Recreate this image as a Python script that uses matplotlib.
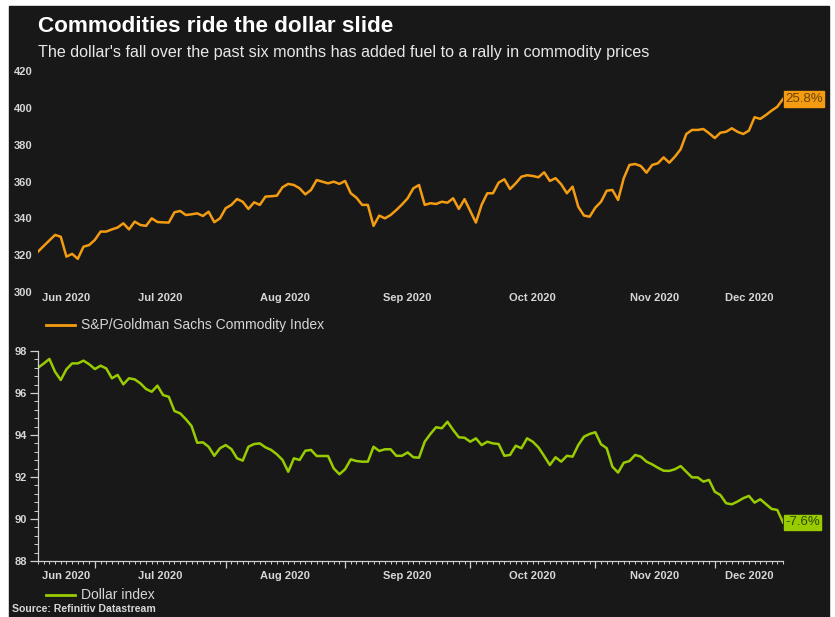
import matplotlib
matplotlib.use("Agg")
import matplotlib.pyplot as plt
from matplotlib import transforms
from matplotlib.lines import Line2D
from matplotlib.patches import Rectangle
from matplotlib.ticker import MultipleLocator
import numpy as np
import pandas as pd

# trading days shown on the x axis
dates = pd.bdate_range("2020-06-17", "2020-12-17")

# S&P/Goldman Sachs Commodity Index, one value per trading day
gsci = [321.9, 325.0, 328.0, 331.0, 330.0, 319.2, 320.7, 318.0, 324.6, 325.5,
        328.3, 332.8, 332.8, 334.0, 335.0, 337.3, 334.0, 338.2, 336.4, 335.9,
        340.0, 338.0, 337.8, 337.7, 343.3, 344.0, 341.8, 342.2, 342.7, 341.3,
        343.6, 337.9, 340.0, 345.5, 347.3, 350.5, 349.0, 345.1, 348.7, 347.3,
        351.8, 352.0, 352.3, 356.9, 358.7, 358.1, 356.3, 353.0, 355.4, 360.8,
        359.9, 359.0, 359.9, 358.7, 360.3, 353.6, 351.2, 347.3, 347.3, 335.9,
        341.5, 340.0, 341.8, 344.5, 347.5, 350.9, 356.3, 358.1, 347.3, 348.2,
        347.8, 349.0, 348.5, 350.9, 345.1, 350.4, 344.0, 337.7, 347.3, 353.6,
        353.6, 359.4, 361.2, 355.9, 359.0, 362.6, 363.4, 363.0, 362.3, 365.0,
        360.3, 361.8, 358.5, 353.6, 357.2, 346.3, 341.5, 340.9, 345.8, 349.0,
        355.0, 355.4, 350.0, 361.8, 369.0, 369.5, 368.4, 364.8, 369.0, 369.9,
        373.1, 370.2, 373.5, 377.5, 385.8, 388.0, 388.0, 388.5, 386.2, 383.6,
        386.5, 387.0, 388.9, 387.0, 385.8, 387.6, 394.9, 394.0, 396.1, 398.5,
        400.6, 404.8]

# Dollar index, one value per trading day
dollar = [97.20, 97.40, 97.62, 97.01, 96.62, 97.13, 97.41, 97.41, 97.54, 97.37,
          97.14, 97.30, 97.17, 96.70, 96.86, 96.41, 96.70, 96.65, 96.46, 96.19,
          96.06, 96.35, 95.90, 95.82, 95.14, 95.03, 94.75, 94.43, 93.63, 93.65,
          93.44, 93.01, 93.37, 93.52, 93.33, 92.89, 92.78, 93.44, 93.57, 93.60,
          93.41, 93.29, 93.08, 92.81, 92.25, 92.89, 92.81, 93.25, 93.29, 93.00,
          93.00, 93.00, 92.41, 92.13, 92.37, 92.84, 92.76, 92.73, 92.73, 93.44,
          93.24, 93.32, 93.32, 93.01, 93.01, 93.17, 92.94, 92.92, 93.68, 94.05,
          94.37, 94.32, 94.63, 94.24, 93.89, 93.87, 93.68, 93.84, 93.52, 93.68,
          93.60, 93.57, 93.01, 93.05, 93.49, 93.37, 93.84, 93.68, 93.41, 93.00,
          92.57, 92.94, 92.73, 93.01, 92.97, 93.52, 93.92, 94.05, 94.13, 93.56,
          93.37, 92.49, 92.21, 92.68, 92.76, 93.05, 92.97, 92.73, 92.60, 92.44,
          92.30, 92.29, 92.37, 92.52, 92.25, 91.98, 91.98, 91.78, 91.86, 91.30,
          91.14, 90.75, 90.70, 90.83, 90.99, 91.10, 90.78, 90.94, 90.71, 90.48,
          90.43, 89.84]

gsci_ticks = [300, 320, 340, 360, 380, 400, 420]
dollar_ticks = [88, 90, 92, 94, 96, 98]

title = "Commodities ride the dollar slide"
subtitle = ("The dollar's fall over the past six months has added fuel "
            "to a rally in commodity prices")
gsci_name = "S&P/Goldman Sachs Commodity Index"
dollar_name = "Dollar index"
source = "Source: Refinitiv Datastream"

BG = "#181818"
ORANGE = "#f39c12"
GREEN = "#99cc00"
TXT = "#d6d6d6"
SANS = ["Liberation Sans", "DejaVu Sans"]
SMALL = 8  # axis labels (narrow bold face in the original)

W, H = 835, 617


def fx(px):
    return px / W


def fy(py):
    return 1 - py / H


fig = plt.figure(figsize=(W / 100, H / 100), dpi=100, facecolor="white")
fig.add_artist(Rectangle((fx(9), 0), fx(829) - fx(9), fy(6),
                         transform=fig.transFigure, color=BG, zorder=-10))

x = np.arange(len(dates))
months = dates.to_period("M")
starts = [i for i in range(len(dates)) if i == 0 or months[i] != months[i - 1]]
bounds = starts + [len(dates) - 1]
centers = [(bounds[k] + bounds[k + 1]) / 2 for k in range(len(starts))]
mlabels = [dates[s].strftime("%b %Y") for s in starts]


def month_labels(ax, ypx):
    trans = transforms.blended_transform_factory(ax.transData, fig.transFigure)
    for c, lab in zip(centers, mlabels):
        ax.text(c, fy(ypx), lab, transform=trans, ha="center", va="center",
                fontsize=SMALL, fontweight="bold", family=SANS, color=TXT,
                clip_on=False)


def end_tag(ax, y, color, tcolor):
    pct = (y[-1] / y[0] - 1) * 100
    ax.annotate(f"{pct:.1f}%", xy=(x[-1], y[-1]), xytext=(1.5, 0),
                textcoords="offset points", ha="left", va="center",
                fontsize=9.5, color=tcolor, family=SANS,
                bbox=dict(boxstyle="square,pad=0.12", fc=color, ec=color),
                annotation_clip=False)


def style_yticks(ax):
    for t in ax.get_yticklabels():
        t.set_fontfamily(SANS)
        t.set_fontweight("bold")
        t.set_color(TXT)
        t.set_fontsize(SMALL)


# top panel: commodities
ax1 = fig.add_axes([fx(38), fy(292), fx(783) - fx(38), (292 - 71) / H])
ax1.set_facecolor("none")
ax1.plot(x, gsci, color=ORANGE, lw=1.8, solid_joinstyle="round")
ax1.set_xlim(0, len(dates) - 1)
ax1.set_ylim(300, 420)
ax1.set_yticks(gsci_ticks)
ax1.set_xticks([])
for s in ax1.spines.values():
    s.set_visible(False)
ax1.tick_params(axis="y", length=0, pad=4)
style_yticks(ax1)
month_labels(ax1, 298)
end_tag(ax1, gsci, ORANGE, "#6a4300")

# bottom panel: dollar
ax2 = fig.add_axes([fx(38), fy(561), fx(783) - fx(38), (561 - 351) / H])
ax2.set_facecolor("none")
ax2.plot(x, dollar, color=GREEN, lw=1.8, solid_joinstyle="round")
ax2.set_xlim(0, len(dates) - 1)
ax2.set_ylim(88, 98)
ax2.set_yticks(dollar_ticks)
ax2.yaxis.set_minor_locator(MultipleLocator(0.4))
ax2.set_xticks(starts[1:])
ax2.set_xticklabels([])
ax2.xaxis.set_minor_locator(MultipleLocator(1))
for side in ["top", "right"]:
    ax2.spines[side].set_visible(False)
for side in ["left", "bottom"]:
    ax2.spines[side].set_color("#cfcfcf")
    ax2.spines[side].set_linewidth(0.9)
ax2.tick_params(axis="both", which="major", color="#cfcfcf", width=0.9)
ax2.tick_params(axis="both", which="minor", color="#cfcfcf", width=0.7)
ax2.tick_params(axis="y", which="major", length=6, pad=2)
ax2.tick_params(axis="y", which="minor", length=3)
ax2.tick_params(axis="x", which="major", length=5)
ax2.tick_params(axis="x", which="minor", length=2.5)
style_yticks(ax2)
month_labels(ax2, 576)
end_tag(ax2, dollar, GREEN, "#2f4600")

# legends
fig.add_artist(Line2D([fx(46), fx(75)], [fy(325), fy(325)], color=ORANGE,
                      lw=2, transform=fig.transFigure))
fig.text(fx(81), fy(325), gsci_name, va="center", fontsize=10, color=TXT,
         family=SANS)
fig.add_artist(Line2D([fx(46), fx(75)], [fy(595), fy(595)], color=GREEN,
                      lw=2, transform=fig.transFigure))
fig.text(fx(81), fy(595), dollar_name, va="center", fontsize=10, color=TXT,
         family=SANS)

fig.text(fx(38), fy(32), title, va="baseline", fontsize=16.2, fontweight="bold",
         color="white", family=SANS)
fig.text(fx(38), fy(57), subtitle, va="baseline", fontsize=11.65,
         color="#e8e8e8", family=SANS)
fig.text(fx(12), fy(609), source, va="center", fontsize=7.6, fontweight="bold",
         color=TXT, family=SANS)

fig.savefig("out.png", dpi=100, facecolor=fig.get_facecolor())
